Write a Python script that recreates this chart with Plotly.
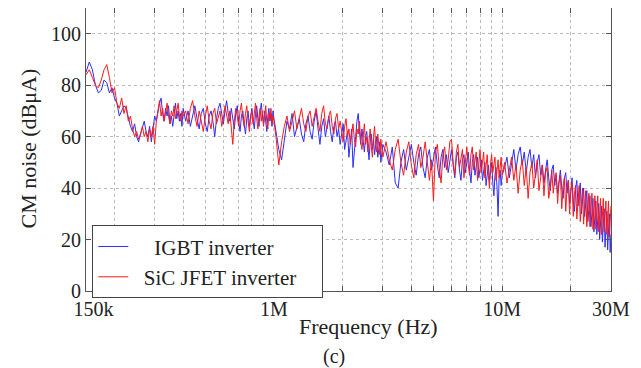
import plotly.graph_objects as go

# Frequency sample points (MHz)
freq_mhz = [
    0.150, 0.155, 0.160, 0.165, 0.170, 0.175, 0.180, 0.185, 0.190, 0.195,
    0.200, 0.205, 0.210, 0.215, 0.220, 0.225, 0.230, 0.235, 0.240, 0.245,
    0.250, 0.255, 0.260, 0.265, 0.270, 0.275, 0.280, 0.285, 0.290, 0.295,
    0.300, 0.305, 0.310, 0.315, 0.320, 0.325, 0.330, 0.335, 0.340, 0.345,
    0.350, 0.355, 0.360, 0.365, 0.370, 0.375, 0.380, 0.385, 0.390, 0.395,
    0.400,
    0.41, 0.42, 0.43, 0.44, 0.45, 0.46, 0.47, 0.48, 0.49, 0.50,
    0.51, 0.52, 0.53, 0.54, 0.55, 0.56, 0.57, 0.58, 0.59, 0.60,
    0.61, 0.62, 0.63, 0.64, 0.65, 0.66, 0.67, 0.68, 0.69, 0.70,
    0.71, 0.72, 0.73, 0.74, 0.75, 0.76, 0.77, 0.78, 0.79, 0.80,
    0.81, 0.82, 0.83, 0.84, 0.85, 0.86, 0.87, 0.88, 0.89, 0.90,
    0.91, 0.92, 0.93, 0.94, 0.95, 0.96, 0.97, 0.98, 0.99, 1.00,
    1.02, 1.05, 1.08, 1.11, 1.14, 1.17, 1.20, 1.23, 1.26, 1.29,
    1.32, 1.35, 1.38, 1.41, 1.44, 1.47, 1.50, 1.53, 1.56, 1.59,
    1.62, 1.65, 1.68, 1.71, 1.74, 1.77, 1.80, 1.83, 1.86, 1.89,
    1.92, 1.95, 1.98, 2.01, 2.04, 2.07, 2.10, 2.13, 2.16, 2.19,
    2.22, 2.25, 2.28, 2.31, 2.34, 2.37, 2.40, 2.43, 2.46, 2.49,
    2.52, 2.55, 2.58, 2.61, 2.64, 2.67, 2.70, 2.73, 2.76, 2.79,
    2.82, 2.85, 2.88, 2.91, 2.94, 2.97, 3.00,
    3.1, 3.2, 3.3, 3.4, 3.5, 3.6, 3.7, 3.8, 3.9, 4.0,
    4.1, 4.2, 4.3, 4.4, 4.5, 4.6, 4.7, 4.8, 4.9, 5.0,
    5.1, 5.2, 5.3, 5.4, 5.5, 5.6, 5.7, 5.8, 5.9, 6.0,
    6.1, 6.2, 6.3, 6.4, 6.5, 6.6, 6.7, 6.8, 6.9, 7.0,
    7.1, 7.2, 7.3, 7.4, 7.5, 7.6, 7.7, 7.8, 7.9, 8.0,
    8.1, 8.2, 8.3, 8.4, 8.5, 8.6, 8.7, 8.8, 8.9, 9.0,
    9.1, 9.2, 9.3, 9.4, 9.5, 9.6, 9.7, 9.8, 9.9, 10.0,
    10.25, 10.5, 10.75, 11.0, 11.25, 11.5, 11.75, 12.0, 12.25, 12.5,
    12.75, 13.0, 13.25, 13.5, 13.75, 14.0, 14.25, 14.5, 14.75, 15.0,
    15.25, 15.5, 15.75, 16.0, 16.25, 16.5, 16.75, 17.0, 17.25, 17.5,
    17.75, 18.0, 18.25, 18.5, 18.75, 19.0, 19.25, 19.5, 19.75, 20.0,
    20.25, 20.5, 20.75, 21.0, 21.25, 21.5, 21.75, 22.0, 22.25, 22.5,
    22.75, 23.0, 23.25, 23.5, 23.75, 24.0, 24.25, 24.5, 24.75, 25.0,
    25.25, 25.5, 25.75, 26.0, 26.25, 26.5, 26.75, 27.0, 27.25, 27.5,
    27.75, 28.0, 28.25, 28.5, 28.75, 29.0, 29.25, 29.5, 29.75, 30.0,
]

# IGBT inverter CM noise (dBuA)
igbt_db = [
    85, 89, 86, 80, 77, 78, 82, 81, 77, 79,
    75, 73, 68, 70, 72, 71, 67, 64, 62, 65,
    60, 58, 61, 64, 66, 62, 60, 64, 58, 63,
    68, 66, 70, 73, 75, 69, 66, 71, 68, 72,
    65, 68, 64, 70, 73, 67, 70, 66, 69, 64,
    71,
    66, 70, 64, 68, 72, 67, 63, 69, 71, 65,
    62, 68, 70, 66, 60, 67, 71, 73, 68, 65,
    70, 74, 69, 66, 71, 67, 63, 69, 72, 66,
    62, 68, 70, 65, 61, 67, 70, 64, 68, 71,
    66, 63, 69, 72, 67, 64, 70, 73, 68, 65,
    70, 67, 62, 68, 71, 66, 69, 64, 70, 67,
    62, 55, 51, 58, 66, 63, 69, 60, 64, 67,
    61, 58, 65, 68, 62, 59, 66, 70, 63, 57,
    64, 67, 60, 65, 68, 62, 58, 64, 66, 60,
    63, 57, 61, 65, 55, 59, 62, 52, 58, 63,
    48, 56, 60, 66, 69, 62, 57, 63, 59, 54,
    60, 62, 56, 51, 58, 61, 55, 59, 53, 57,
    60, 52, 56, 58, 50, 55, 57,
    54, 49, 56, 42, 40, 50, 55, 47, 52, 57,
    50, 45, 53, 56, 48, 44, 52, 55, 47, 51,
    56, 49, 44, 52, 55, 48, 53, 46, 51, 55,
    49, 44, 52, 54, 47, 43, 51, 53, 46, 50,
    54, 47, 42, 50, 53, 45, 49, 52, 44, 48,
    51, 43, 47, 50, 41, 46, 49, 43, 47, 50,
    42, 37, 45, 48, 40, 29, 44, 47, 41, 45,
    48, 52, 44, 50, 55, 47, 53, 56, 49, 54,
    46, 52, 55, 48, 53, 44, 50, 53, 45, 49,
    42, 47, 51, 44, 39, 47, 49, 41, 45, 38,
    44, 47, 40, 36, 44, 46, 38, 43, 34, 41,
    44, 35, 31, 40, 43, 33, 38, 42, 30, 36,
    40, 29, 34, 39, 27, 33, 37, 25, 31, 36,
    23, 30, 35, 22, 28, 34, 20, 27, 33, 19,
    26, 32, 17, 25, 31, 16, 24, 30, 15, 22,
]

# SiC JFET inverter CM noise (dBuA)
sic_db = [
    84, 86, 83, 80, 79, 82, 86, 88, 83, 77,
    79, 73, 71, 75, 69, 72, 66, 68, 63, 60,
    62, 59, 61, 64, 60, 62, 58, 63, 60, 64,
    57, 66, 70, 74, 68, 71, 66, 70, 73, 68,
    65, 70, 68, 72, 67, 70, 73, 68, 66, 70,
    68,
    70, 65, 71, 74, 68, 64, 70, 66, 62, 68,
    72, 66, 63, 69, 71, 65, 68, 70, 64, 67,
    72, 68, 65, 70, 62, 57, 66, 71, 68, 64,
    70, 73, 67, 64, 69, 72, 66, 62, 68, 70,
    65, 69, 73, 67, 63, 68, 71, 66, 70, 64,
    68, 72, 66, 63, 69, 67, 71, 65, 68, 66,
    60, 49, 58, 64, 68, 62, 66, 70, 63, 67,
    71, 65, 62, 68, 70, 64, 67, 71, 66, 62,
    69, 72, 65, 63, 68, 70, 64, 61, 67, 69,
    63, 66, 62, 58, 64, 67, 60, 63, 57, 62,
    65, 59, 56, 63, 61, 66, 58, 55, 62, 65,
    57, 60, 54, 59, 63, 56, 52, 60, 64, 57,
    54, 61, 58, 53, 59, 56, 52,
    58, 51, 47, 55, 59, 50, 45, 54, 58, 49,
    44, 53, 57, 48, 52, 58, 50, 43, 51, 35,
    54, 57, 48, 42, 53, 56, 47, 51, 58, 59,
    50, 45, 54, 57, 48, 52, 55, 44, 50, 56,
    49, 45, 53, 56, 47, 51, 54, 43, 49, 55,
    46, 51, 54, 44, 49, 53, 45, 40, 50, 53,
    46, 49, 52, 43, 47, 51, 44, 48, 52, 45,
    50, 42, 48, 52, 43, 49, 38, 47, 51, 41,
    48, 36, 46, 50, 40, 47, 51, 39, 45, 49,
    37, 46, 48, 36, 40, 47, 38, 44, 46, 34,
    42, 45, 32, 41, 44, 31, 40, 43, 30, 39,
    42, 29, 38, 41, 28, 37, 41, 27, 36, 40,
    26, 35, 39, 25, 34, 38, 25, 33, 38, 24,
    32, 37, 24, 31, 37, 23, 30, 36, 22, 30,
    36, 23, 29, 35, 22, 28, 35, 21, 30, 33,
]

x_tick_vals = [1.5e5, 2e5, 3e5, 4e5, 5e5, 6e5, 7e5, 8e5, 9e5,
               1e6, 2e6, 3e6, 4e6, 5e6, 6e6, 7e6, 8e6, 9e6,
               1e7, 2e7, 3e7]
x_tick_text = ["\u00a0\u00a0\u00a0150k", "", "", "", "", "", "", "", "",
               "1M", "", "", "", "", "", "", "", "",
               "10M", "", "30M"]
y_tick_vals = [0, 20, 40, 60, 80, 100]

freq_hz = [f * 1e6 for f in freq_mhz]

FONT = "Liberation Serif"
AXC = "#555555"
TXT = "#222222"
NB = "\u00a0"

fig = go.Figure()
fig.add_trace(go.Scatter(
    x=freq_hz, y=igbt_db, mode="lines",
    name=NB * 4 + "IGBT inverter",
    line=dict(color="rgb(45,45,250)", width=1),
))
fig.add_trace(go.Scatter(
    x=freq_hz, y=sic_db, mode="lines",
    name=NB * 2 + "SiC JFET inverter" + NB * 4,
    line=dict(color="rgb(255,25,25)", width=1),
))

# page has an 8px body margin: figure is drawn at (8, 8)
fig.update_layout(
    width=633, height=360,
    margin=dict(l=78, r=30, t=0, b=77),
    paper_bgcolor="white", plot_bgcolor="white",
    font=dict(family=FONT, size=20, color=TXT),
    showlegend=True,
    legend=dict(
        x=0.012, y=0.232, xanchor="left", yanchor="top",
        bgcolor="white", bordercolor="#444444", borderwidth=1,
        font=dict(family=FONT, size=21, color=TXT),
        tracegroupgap=0,
    ),
    annotations=[
        dict(text="Frequency (Hz)", x=0.538, y=-0.125, xref="paper", yref="paper",
             showarrow=False, xanchor="center", yanchor="middle",
             font=dict(family=FONT, size=22, color=TXT)),
        dict(text="CM noise (dBμA)", x=-0.1095, y=0.502, xref="paper", yref="paper",
             showarrow=False, xanchor="center", yanchor="middle", textangle=-90,
             font=dict(family=FONT, size=22, color=TXT)),
        dict(text="(c)", x=0.472, y=-0.231, xref="paper", yref="paper",
             showarrow=False, xanchor="center", yanchor="middle",
             font=dict(family=FONT, size=20, color=TXT)),
    ],
)

fig.update_xaxes(
    type="log", range=[5.1761, 7.4771],
    tickmode="array", tickvals=x_tick_vals, ticktext=x_tick_text,
    showgrid=True, gridcolor="#bbbbbb", griddash="dot", gridwidth=1,
    showline=True, linecolor=AXC, linewidth=1, mirror="ticks",
    ticks="inside", ticklen=5, tickcolor=AXC,
    zeroline=False,
    tickfont=dict(family=FONT, size=20, color=TXT),
)
fig.update_yaxes(
    range=[0, 110],
    tickmode="array", tickvals=y_tick_vals,
    showgrid=True, gridcolor="#bbbbbb", griddash="dot", gridwidth=1,
    showline=True, linecolor=AXC, linewidth=1, mirror="ticks",
    ticks="inside", ticklen=5, tickcolor=AXC,
    zeroline=False,
    tickfont=dict(family=FONT, size=20, color=TXT),
)

fig.write_html("out.html")
